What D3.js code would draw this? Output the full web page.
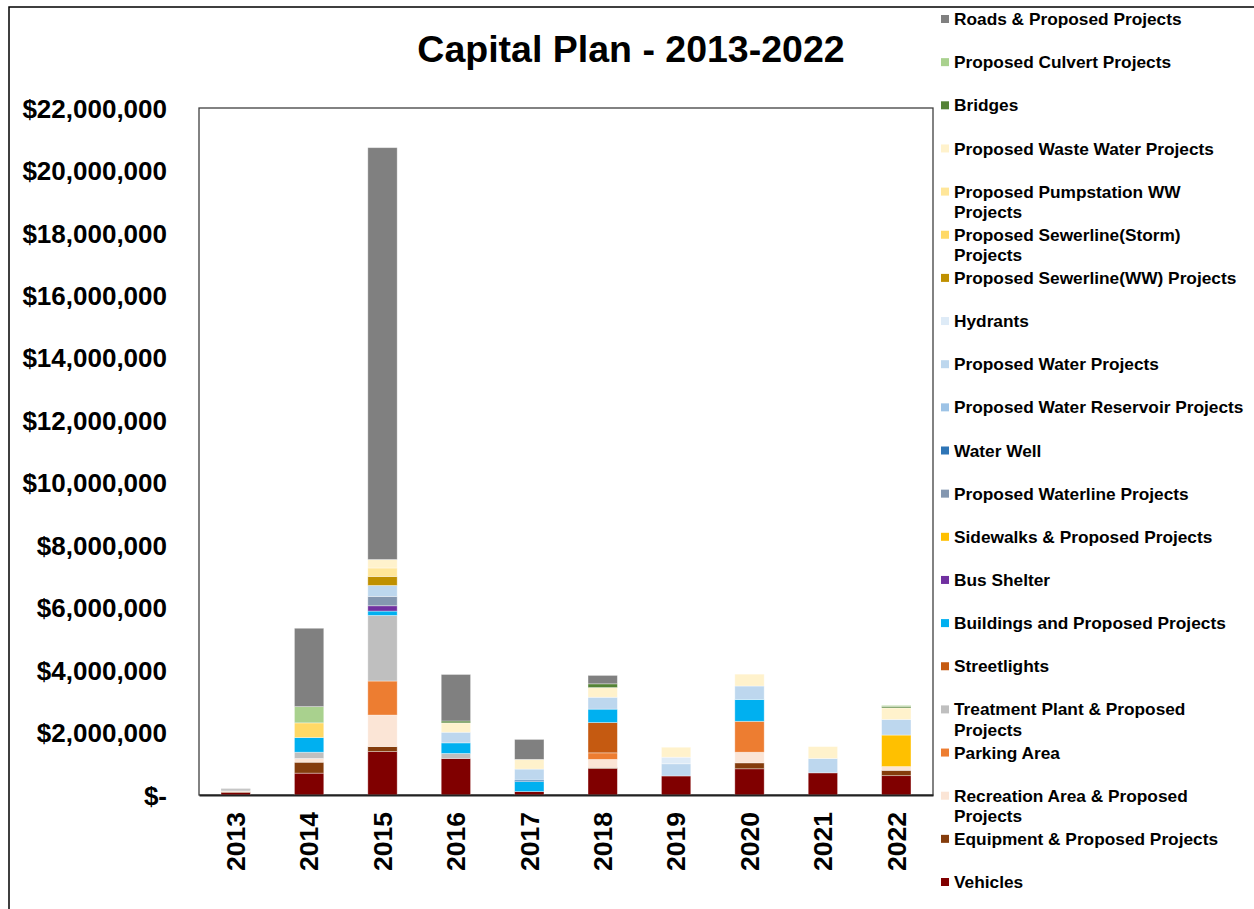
<!DOCTYPE html>
<html>
<head>
<meta charset="utf-8">
<script src="https://cdn.jsdelivr.net/npm/d3@7"></script>
<style>
  body { margin: 0; background: #fff; }
  text { font-family: "Liberation Sans", Arial, sans-serif; font-weight: bold; fill: #000; }
</style>
</head>
<body>
<div id="chart"></div>
<script>
var years = ["2013", "2014", "2015", "2016", "2017", "2018", "2019", "2020", "2021", "2022"];

// legend order, top to bottom
var seriesNames = [
  "Roads & Proposed Projects",
  "Proposed Culvert Projects",
  "Bridges",
  "Proposed Waste Water Projects",
  "Proposed Pumpstation WW\nProjects",
  "Proposed Sewerline(Storm)\nProjects",
  "Proposed Sewerline(WW) Projects",
  "Hydrants",
  "Proposed Water Projects",
  "Proposed Water Reservoir Projects",
  "Water Well",
  "Proposed Waterline Projects",
  "Sidewalks & Proposed Projects",
  "Bus Shelter",
  "Buildings and Proposed Projects",
  "Streetlights",
  "Treatment Plant & Proposed\nProjects",
  "Parking Area",
  "Recreation Area & Proposed\nProjects",
  "Equipment & Proposed Projects",
  "Vehicles"
];

var seriesColors = [
  "#808080", "#a9d18e", "#548235", "#fff2cc", "#ffe699", "#ffd966", "#bf9000",
  "#deebf7", "#bdd7ee", "#9dc3e6", "#2e75b6", "#8497b0", "#ffc000", "#7030a0",
  "#00b0f0", "#c55a11", "#bfbfbf", "#ed7d31", "#fbe5d6", "#843c0c", "#800000"
];

// values per year 2013..2022, same order as seriesNames
var roads        = [30000, 2510000, 13190000, 1490000, 640000, 270000, 0, 0, 0, 0];
var culvert      = [0, 520000, 0, 0, 0, 0, 0, 0, 0, 30000];
var bridges      = [0, 0, 0, 60000, 0, 120000, 0, 0, 0, 50000];
var wasteWater   = [0, 0, 270000, 300000, 310000, 310000, 320000, 380000, 380000, 370000];
var pumpstation  = [0, 0, 270000, 0, 0, 0, 0, 0, 0, 0];
var sewerStorm   = [0, 470000, 0, 0, 0, 0, 0, 0, 0, 0];
var sewerWW      = [0, 0, 290000, 0, 0, 0, 0, 0, 0, 0];
var hydrants     = [0, 0, 0, 0, 0, 0, 210000, 0, 0, 0];
var water        = [0, 0, 350000, 340000, 350000, 380000, 390000, 430000, 460000, 500000];
var reservoir    = [0, 0, 0, 0, 0, 0, 0, 0, 0, 0];
var waterWell    = [0, 0, 0, 0, 50000, 0, 0, 0, 0, 0];
var waterline    = [0, 0, 300000, 0, 0, 0, 0, 0, 0, 0];
var sidewalks    = [0, 0, 0, 0, 0, 0, 0, 0, 0, 1010000];
var busShelter   = [0, 0, 170000, 0, 0, 0, 0, 0, 0, 0];
var buildings    = [0, 470000, 140000, 340000, 320000, 430000, 0, 700000, 0, 0];
var streetlights = [0, 0, 0, 0, 0, 970000, 0, 0, 0, 0];
var treatment    = [40000, 200000, 2100000, 160000, 0, 0, 0, 0, 0, 0];
var parking      = [0, 0, 1090000, 0, 0, 210000, 0, 990000, 0, 0];
var recreation   = [20000, 120000, 1010000, 0, 0, 260000, 0, 340000, 0, 120000];
var equipment    = [30000, 350000, 160000, 0, 0, 30000, 0, 190000, 0, 170000];
var vehicles     = [80000, 700000, 1390000, 1170000, 110000, 850000, 610000, 840000, 710000, 620000];

var seriesValues = [roads, culvert, bridges, wasteWater, pumpstation, sewerStorm, sewerWW,
  hydrants, water, reservoir, waterWell, waterline, sidewalks, busShelter, buildings,
  streetlights, treatment, parking, recreation, equipment, vehicles];

var yTicks = [0, 2000000, 4000000, 6000000, 8000000, 10000000, 12000000,
  14000000, 16000000, 18000000, 20000000, 22000000];

var title = "Capital Plan - 2013-2022";

var width = 1254,
    height = 909;

var plot = { left: 199, right: 933, top: 108, bottom: 795 };

var svg = d3.select("#chart").append("svg")
    .attr("width", width)
    .attr("height", height);

// chart frame (only the left and top edges are visible)
svg.append("path")
    .attr("d", "M9," + height + "V7H" + width)
    .attr("fill", "none")
    .attr("stroke", "#000")
    .attr("stroke-width", 1.5);

// build one row per year for the stack
var keys = seriesNames.slice().reverse();   // bottom to top
var rows = years.map(function(y, i) {
  var row = { year: y };
  seriesNames.forEach(function(name, j) { row[name] = seriesValues[j][i]; });
  return row;
});

var stack = d3.stack().keys(keys);
var layers = stack(rows);

var colorOf = d3.scaleOrdinal().domain(seriesNames).range(seriesColors);

var x = d3.scaleBand()
    .domain(years)
    .range([plot.left, plot.right])
    .paddingInner(0.6)
    .paddingOuter(0.3);

var y = d3.scaleLinear()
    .domain([0, 22000000])
    .range([plot.bottom, plot.top]);

// plot area box
svg.append("rect")
    .attr("x", plot.left)
    .attr("y", plot.top)
    .attr("width", plot.right - plot.left)
    .attr("height", plot.bottom - plot.top)
    .attr("fill", "#fff")
    .attr("stroke", "#404040")
    .attr("stroke-width", 1.3);

svg.append("g")
  .selectAll("g")
  .data(layers)
  .enter().append("g")
    .attr("fill", function(d) { return colorOf(d.key); })
  .selectAll("rect")
  .data(function(d) { return d; })
  .enter().append("rect")
    .attr("x", function(d) { return x(d.data.year); })
    .attr("y", function(d) { return y(d[1]); })
    .attr("width", x.bandwidth())
    .attr("height", function(d) { return y(d[0]) - y(d[1]); })
    .attr("stroke", "rgba(255,255,255,0.45)")
    .attr("stroke-width", 0.8);

// y axis labels
var yFmt = d3.format(",");
var yAxis = d3.axisLeft(y)
    .tickValues(yTicks)
    .tickSize(0)
    .tickPadding(0)
    .tickFormat(function(d) { return d === 0 ? "$-" : "$" + yFmt(d); });

svg.append("g")
    .attr("transform", "translate(167,0)")
    .call(yAxis)
    .call(function(g) { g.select(".domain").remove(); })
    .selectAll("text")
      .attr("font-size", 26)
      .attr("font-family", "Liberation Sans, Arial, sans-serif")
      .attr("font-weight", "bold")
      .attr("fill", "#000")
      .attr("dy", "0.35em");

// x axis line + rotated year labels
var xAxis = d3.axisBottom(x).tickSize(0).tickPadding(0);
var gx = svg.append("g")
    .attr("transform", "translate(0," + plot.bottom + ")")
    .call(xAxis);
gx.select(".domain")
    .attr("stroke", "#222")
    .attr("stroke-width", 2);
gx.selectAll("text")
    .attr("font-size", 26.5)
    .attr("font-family", "Liberation Sans, Arial, sans-serif")
    .attr("font-weight", "bold")
    .attr("fill", "#000")
    .attr("text-anchor", "end")
    .attr("transform", "translate(0,17) rotate(-90)")
    .attr("x", 0)
    .attr("y", 0)
    .attr("dy", "0.35em");

// title
svg.append("text")
    .attr("x", 631)
    .attr("y", 62)
    .attr("text-anchor", "middle")
    .attr("font-size", 37.5)
    .text(title);

// legend
var legendTop = 19,
    legendStep = 43.15,
    lineGap = 20.5;

var legend = svg.append("g")
  .selectAll("g")
  .data(seriesNames)
  .enter().append("g")
    .attr("transform", function(d, i) { return "translate(941," + (legendTop + i * legendStep) + ")"; });

legend.append("rect")
    .attr("x", 0)
    .attr("y", -4)
    .attr("width", 8)
    .attr("height", 8)
    .attr("fill", function(d) { return colorOf(d); });

legend.append("text")
    .attr("x", 13)
    .attr("font-size", 17.3)
    .selectAll("tspan")
    .data(function(d) { return d.split("\n"); })
    .enter().append("tspan")
      .attr("x", 13)
      .attr("y", function(d, i) { return i * lineGap; })
      .attr("dy", "0.35em")
      .text(function(d) { return d; });
</script>
</body>
</html>
